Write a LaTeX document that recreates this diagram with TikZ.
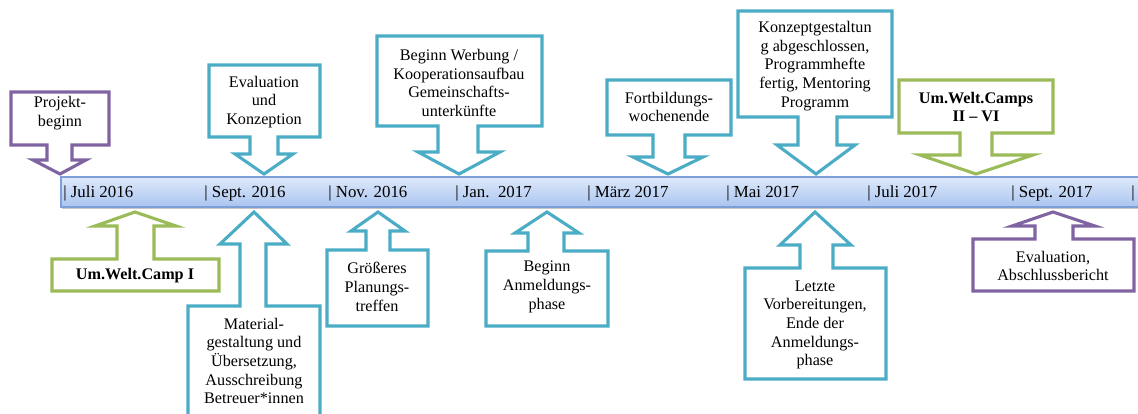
\documentclass[tikz,border=0pt]{standalone}
\usepackage{fontspec}
\setmainfont{Liberation Serif}
\usetikzlibrary{shadows}
\definecolor{calpurple}{HTML}{8064A2}
\definecolor{calteal}{HTML}{4BACC6}
\definecolor{calgreen}{HTML}{9BBB59}
\definecolor{bartop}{HTML}{DFE9FA}
\definecolor{barbottom}{HTML}{A9C4F0}
\definecolor{barline}{HTML}{7C9FD8}
\tikzset{
	callout/.style={line width=2.2pt, line join=miter, fill=white},
	note/.style={align=center, inner sep=0pt, font=\fontsize{11.5}{13.3}\selectfont},
	month/.style={anchor=west, inner sep=0pt, font=\fontsize{12}{14}\selectfont}
}
\begin{document}
\begin{tikzpicture}[x=0.025cm, y=-0.025cm]
	\useasboundingbox (0,0) rectangle (1138,414);
	\path[draw=barline, line width=0.8pt, top color=bartop, bottom color=barbottom,
		drop shadow={shadow xshift=0.6pt, shadow yshift=-1.6pt, opacity=0.45}] (61,177) rectangle (1160,207);
	\node (m1) at (63,193)		[month]	{| Juli 2016};
	\node (m2) at (204,193)		[month]	{| Sept. 2016};
	\node (m3) at (328,193)		[month]	{| Nov. 2016};
	\node (m4) at (455,193)		[month]	{| Jan.\ \ 2017};
	\node (m5) at (587,193)		[month]	{| März 2017};
	\node (m6) at (726,193)		[month]	{| Mai 2017};
	\node (m7) at (867,193)		[month]	{| Juli 2017};
	\node (m8) at (1011,193)	[month]	{| Sept. 2017};
	\node (m9) at (1131,193)	[month]	{|};
	\draw[callout, draw=calpurple] (11,92) -- (109,92) -- (109,145) -- (72,145) -- (72,160) -- (86,160) -- (60,174) -- (33,160) -- (47,160) -- (47,145) -- (11,145) -- cycle;
	\draw[callout, draw=calteal] (209,65) -- (320,65) -- (320,137) -- (278,137) -- (278,154) -- (293,154) -- (264,174) -- (235,154) -- (250,154) -- (250,137) -- (209,137) -- cycle;
	\draw[callout, draw=calteal] (377,36) -- (542,36) -- (542,126) -- (478,126) -- (478,152) -- (500,152) -- (459,174) -- (418,152) -- (438,152) -- (438,126) -- (377,126) -- cycle;
	\draw[callout, draw=calteal] (607,80) -- (731,80) -- (731,135) -- (685,135) -- (685,157) -- (703,157) -- (668,174) -- (633,157) -- (653,157) -- (653,135) -- (607,135) -- cycle;
	\draw[callout, draw=calteal] (738,11) -- (892,11) -- (892,117) -- (837,117) -- (837,145) -- (855,145) -- (816,174) -- (777,145) -- (798,145) -- (798,117) -- (738,117) -- cycle;
	\draw[callout, draw=calgreen] (899,80) -- (1053,80) -- (1053,133) -- (992,133) -- (992,155) -- (1033,155) -- (976,174) -- (920,155) -- (960,155) -- (960,133) -- (899,133) -- cycle;
	\draw[callout, draw=calgreen] (52,259) -- (117,259) -- (117,226) -- (95,226) -- (135,212) -- (176,226) -- (154,226) -- (154,259) -- (219,259) -- (219,291) -- (52,291) -- cycle;
	\draw[callout, draw=calteal] (188,425) -- (188,306) -- (240,306) -- (240,244) -- (220,244) -- (254,212) -- (287,244) -- (266,244) -- (266,306) -- (320,306) -- (320,425);
	\draw[callout, draw=calteal] (327,250) -- (366,250) -- (366,231) -- (351,231) -- (378,212) -- (405,231) -- (390,231) -- (390,250) -- (428,250) -- (428,326) -- (327,326) -- cycle;
	\draw[callout, draw=calteal] (486,251) -- (528,251) -- (528,233) -- (515,233) -- (547,212) -- (579,233) -- (564,233) -- (564,251) -- (608,251) -- (608,326) -- (486,326) -- cycle;
	\draw[callout, draw=calteal] (745,268) -- (800,268) -- (800,245) -- (780,245) -- (815,212) -- (851,245) -- (833,245) -- (833,268) -- (886,268) -- (886,379) -- (745,379) -- cycle;
	\draw[callout, draw=calpurple] (973,239) -- (1035,239) -- (1035,226) -- (1012,226) -- (1053,212) -- (1095,226) -- (1073,226) -- (1073,239) -- (1134,239) -- (1134,291) -- (973,291) -- cycle;
	\node (projekt) at (60,113)		[note]	{Projekt-\\beginn};
	\node (evalkonz) at (264,102)	[note]	{Evaluation\\und\\Konzeption};
	\node (werbung) at (459,83)		[note]	{Beginn Werbung /\\Kooperationsaufbau\\Gemeinschafts-\\unterkünfte};
	\node (fortbild) at (669,107)	[note]	{Fortbildungs-\\wochenende};
	\node (konzept) at (815,66)		[note]	{Konzeptgestaltun\\g abgeschlossen,\\Programmhefte\\fertig, Mentoring\\Programm};
	\node (camps) at (976,107)		[note, font=\fontsize{11.5}{13.3}\selectfont\bfseries]	{Um.Welt.Camps\\II – VI};
	\node (camp) at (135,276)		[note, font=\fontsize{11.5}{13.3}\selectfont\bfseries]	{Um.Welt.Camp I};
	\node (material) at (254,361)	[note]	{Material-\\gestaltung und\\Übersetzung,\\Ausschreibung\\Betreuer*innen};
	\node (planung) at (377,287)	[note]	{Größeres\\Planungs-\\treffen};
	\node (anmeld) at (547,287)		[note]	{Beginn\\Anmeldungs-\\phase};
	\node (letzte) at (815,325)		[note]	{Letzte\\Vorbereitungen,\\Ende der\\Anmeldungs-\\phase};
	\node (abschluss) at (1053,266)	[note]	{Evaluation,\\Abschlussbericht};
\end{tikzpicture}
\end{document}
